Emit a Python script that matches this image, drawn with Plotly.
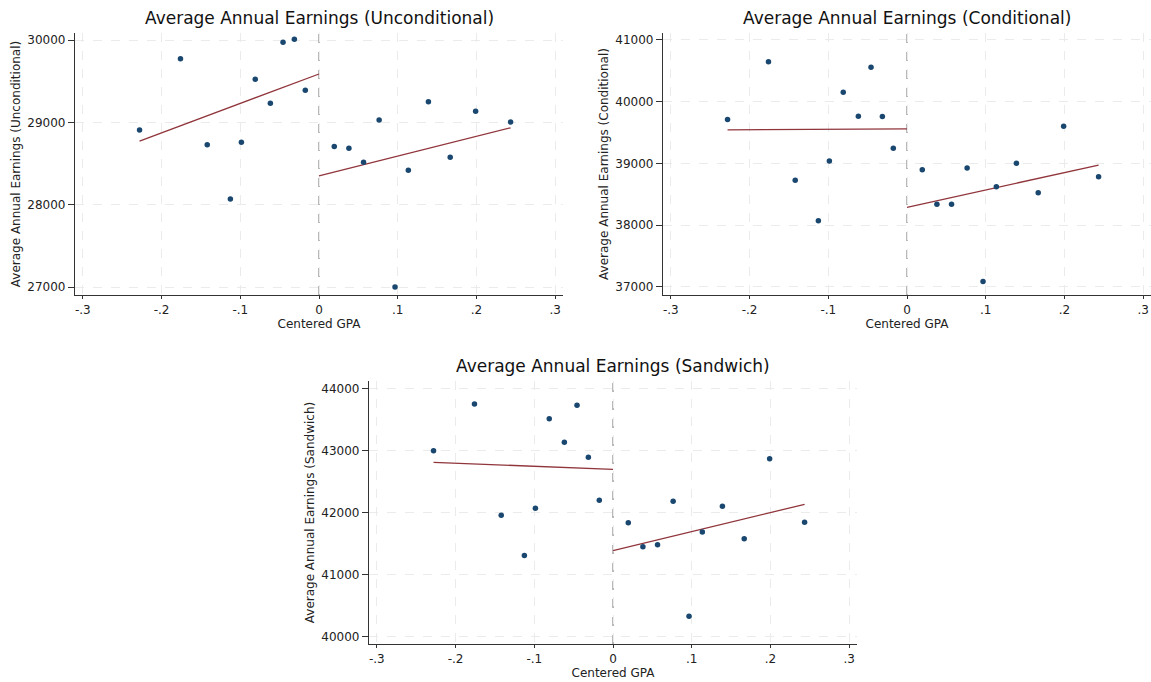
import plotly.graph_objects as go

# Bin midpoints of centered GPA (shared by all three panels)
gpa_left = [-0.228, -0.176, -0.142, -0.1126, -0.0986, -0.081, -0.0618, -0.0457, -0.0313, -0.0174]
gpa_right = [0.0194, 0.038, 0.0566, 0.0764, 0.0966, 0.1135, 0.139, 0.1667, 0.199, 0.2434]

# Binned average annual earnings
uncond_left = [28906, 29773, 28728, 28068, 28757, 29522, 29231, 29972, 30008, 29389]
uncond_right = [28708, 28684, 28514, 29028, 27000, 28417, 29250, 28575, 29134, 29004]
cond_left = [39709, 40642, 38725, 38071, 39037, 40150, 39762, 40555, 39757, 39243]
cond_right = [38896, 38336, 38336, 38924, 37090, 38621, 39000, 38524, 39599, 38783]
sand_left = [43000, 43753, 41956, 41307, 42069, 43515, 43134, 43732, 42892, 42198]
sand_right = [41838, 41451, 41483, 42183, 40328, 41687, 42102, 41580, 42869, 41843]

# Linear fit endpoints on each side of the cutoff
fit_x_left = [-0.228, 0.0]
fit_x_right = [0.0, 0.2434]
uncond_fit_left = [28773, 29587]
uncond_fit_right = [28351, 28934]
cond_fit_left = [39542, 39558]
cond_fit_right = [38288, 38972]
sand_fit_left = [42811, 42698]
sand_fit_right = [41386, 42134]

# Axis ticks
x_ticks = [-0.3, -0.2, -0.1, 0, 0.1, 0.2, 0.3]
x_tick_text = ["-.3", "-.2", "-.1", "0", ".1", ".2", ".3"]
uncond_ticks = [27000, 28000, 29000, 30000]
cond_ticks = [37000, 38000, 39000, 40000, 41000]
sand_ticks = [40000, 41000, 42000, 43000, 44000]

titles = [
    "Average Annual Earnings (Unconditional)",
    "Average Annual Earnings (Conditional)",
    "Average Annual Earnings (Sandwich)",
]
y_titles = [
    "Average Annual Earnings (Unconditional)",
    "Average Annual Earnings (Conditional)",
    "Average Annual Earnings (Sandwich)",
]

DOT = "#1a476f"
FIT = "#90353b"
FONT = "DejaVu Sans"

panels = [
    dict(left=uncond_left, right=uncond_right, fl=uncond_fit_left, fr=uncond_fit_right,
         ticks=uncond_ticks, yrange=[26903, 30085],
         xdom=[75 / 1151, 563 / 1151], ydom=[1 - 295 / 682, 1 - 33 / 682]),
    dict(left=cond_left, right=cond_right, fl=cond_fit_left, fr=cond_fit_right,
         ticks=cond_ticks, yrange=[36870, 41108],
         xdom=[663 / 1151, 1.0], ydom=[1 - 295 / 682, 1 - 33 / 682]),
    dict(left=sand_left, right=sand_right, fl=sand_fit_left, fr=sand_fit_right,
         ticks=sand_ticks, yrange=[39880, 44124],
         xdom=[369 / 1151, 857 / 1151], ydom=[1 - 644 / 682, 1 - 381 / 682]),
]

fig = go.Figure()
layout = dict(
    width=1151, height=682,
    margin=dict(l=0, r=0, t=0, b=0),
    paper_bgcolor="white", plot_bgcolor="white",
    showlegend=False,
    font=dict(family=FONT, size=12, color="#222222"),
    annotations=[], shapes=[],
)

for i, p in enumerate(panels):
    n = "" if i == 0 else str(i + 1)
    xa, ya = "x" + n, "y" + n
    for xs, ys in ((fit_x_left, p["fl"]), (fit_x_right, p["fr"])):
        fig.add_trace(go.Scatter(x=xs, y=ys, mode="lines", xaxis=xa, yaxis=ya,
                                 line=dict(color=FIT, width=1.3), hoverinfo="skip"))
    fig.add_trace(go.Scatter(x=gpa_left + gpa_right, y=p["left"] + p["right"],
                             mode="markers", xaxis=xa, yaxis=ya,
                             marker=dict(color=DOT, size=5.5)))

    axis_common = dict(
        showline=True, linecolor="#333333", linewidth=1.3,
        ticks="outside", tickcolor="#333333", tickwidth=1,
        showgrid=True, gridcolor="#ebebeb", griddash="dash", gridwidth=1,
        zeroline=False, tickfont=dict(family=FONT, size=12, color="#222222"),
    )
    layout["xaxis" + n] = dict(
        axis_common, domain=p["xdom"], anchor=ya, range=[-0.31, 0.31], ticklen=3,
        tickvals=x_ticks, ticktext=x_tick_text,
        title=dict(text="Centered GPA", font=dict(family=FONT, size=12), standoff=3),
    )
    layout["yaxis" + n] = dict(
        axis_common, domain=p["ydom"], anchor=xa, range=p["yrange"], ticklen=6,
        tickvals=p["ticks"], ticktext=[str(t) for t in p["ticks"]],
        title=dict(text=y_titles[i], font=dict(family=FONT, size=12), standoff=4),
    )
    # cutoff line at zero
    layout["shapes"].append(dict(
        type="line", xref=xa, yref=ya + " domain", x0=0, x1=0, y0=0, y1=1,
        line=dict(color="#8c8c8c", width=1.2, dash="dash"), layer="below",
    ))
    # panel title
    layout["annotations"].append(dict(
        text=titles[i], xref="paper", yref="paper",
        x=(p["xdom"][0] + p["xdom"][1]) / 2, y=p["ydom"][1],
        xanchor="center", yanchor="bottom", yshift=3, showarrow=False,
        font=dict(family=FONT, size=17, color="#111111"),
    ))

fig.update_layout(**layout)
fig.write_html("out.html")
